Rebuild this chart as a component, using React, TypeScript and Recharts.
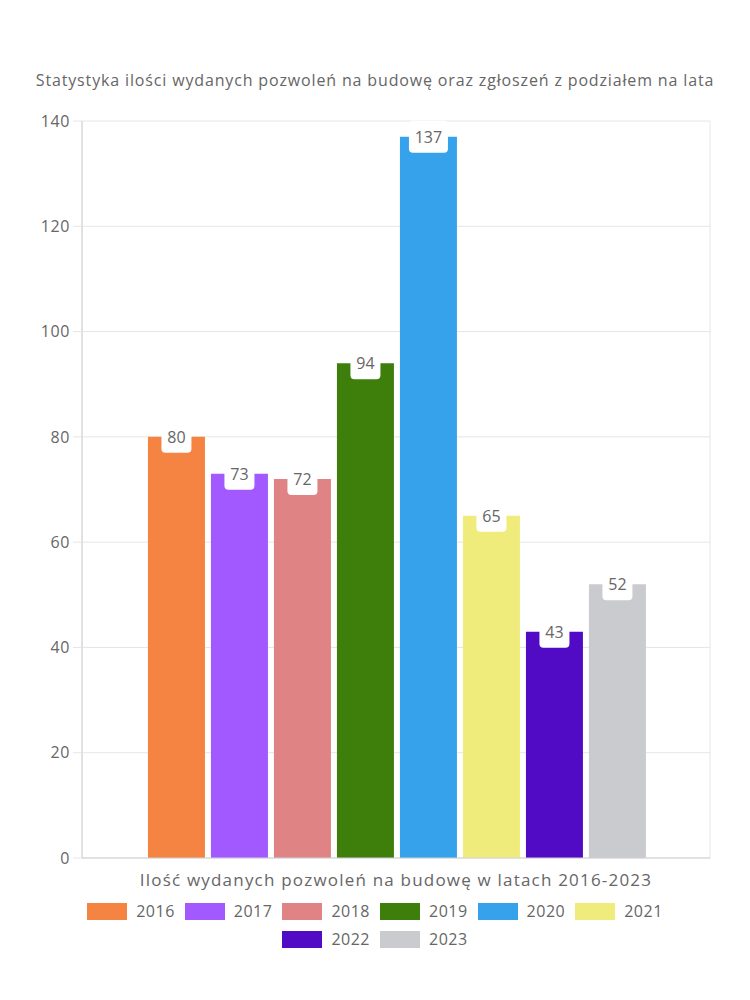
import { BarChart, Bar, XAxis, YAxis, CartesianGrid, LabelList } from 'recharts'

const chartTitle = 'Statystyka ilości wydanych pozwoleń na budowę oraz zgłoszeń z podziałem na lata'
const axisTitle = 'Ilość wydanych pozwoleń na budowę w latach 2016-2023'
const years = ['2016', '2017', '2018', '2019', '2020', '2021', '2022', '2023']
const counts = [80, 73, 72, 94, 137, 65, 43, 52]
const colors = ['#F58342', '#A259FF', '#E08385', '#3E7F0B', '#36A2EB', '#F0EC7C', '#520BC4', '#CACBCF']
const yTicks = [0, 20, 40, 60, 80, 100, 120, 140]
const edgeTicks = [0, 1]

const row: Record<string, string | number> = { name: axisTitle }
years.forEach((y, i) => { row[y] = counts[i] })
const data = [row]

const FONT = '"Open Sans", sans-serif'
const TEXT = '#666'

// white rounded box sitting on the top edge of each bar
// eslint-disable-next-line @typescript-eslint/no-explicit-any
const BoxLabel = (props: any) => {
  const { x, y, width, value } = props
  const text = String(value)
  const w = text.length * 9 + 12
  const cx = Number(x) + Number(width) / 2
  return (
    <g>
      <rect x={cx - w / 2} y={Number(y) - 16} width={w} height={32} rx={4} fill="#fff" />
      <text x={cx} y={Number(y)} textAnchor="middle" dominantBaseline="central" fill={TEXT} fontSize={16}>
        {text}
      </text>
    </g>
  )
}

export default function App() {
  return (
    <div style={{ position: 'absolute', left: 0, top: 0, width: 750, height: 1000, fontFamily: FONT, background: '#fff' }}>
      <div style={{ position: 'absolute', left: 0, top: 69, width: 750, textAlign: 'center', fontSize: 16, letterSpacing: 0.85, color: TEXT }}>
        {chartTitle}
      </div>
      <BarChart
        width={750}
        height={1000}
        data={data}
        margin={{ top: 121, right: 40, bottom: 132, left: 0 }}
        barCategoryGap="10.5%"
        barGap={6}
      >
        <CartesianGrid stroke="#e6e6e6" xAxisId="edges" />
        <XAxis dataKey="name" hide height={0} />
        <XAxis
          xAxisId="edges"
          type="number"
          domain={[0, 1]}
          ticks={edgeTicks}
          tick={false}
          tickSize={8}
          height={10}
          axisLine={{ stroke: '#d0d0d0' }}
          tickLine={{ stroke: '#e0e0e0' }}
        />
        <YAxis
          width={82}
          domain={[0, 140]}
          ticks={yTicks}
          interval={0}
          tickSize={9}
          tickMargin={3}
          axisLine={{ stroke: '#d0d0d0' }}
          tickLine={{ stroke: '#e6e6e6' }}
          tick={{ fill: TEXT, fontSize: 16, letterSpacing: 0.6 }}
        />
        {years.map((y, i) => (
          <Bar key={y} dataKey={y} fill={colors[i]} isAnimationActive={false}>
            <LabelList dataKey={y} content={BoxLabel} />
          </Bar>
        ))}
      </BarChart>
      <div style={{ position: 'absolute', left: 82, top: 868, width: 628, textAlign: 'center', fontSize: 17, letterSpacing: 1.2, color: TEXT }}>
        {axisTitle}
      </div>
      <div
        style={{
          position: 'absolute', left: 70, top: 900, width: 610,
          display: 'flex', flexWrap: 'wrap', justifyContent: 'center', rowGap: 6,
        }}
      >
        {years.map((y, i) => (
          <div key={y} style={{ display: 'flex', alignItems: 'center', height: 22, margin: '0 5px' }}>
            <span style={{ display: 'inline-block', width: 40, height: 17, background: colors[i], marginRight: 9 }} />
            <span style={{ fontSize: 16, letterSpacing: 0.5, color: TEXT, lineHeight: '22px' }}>{y}</span>
          </div>
        ))}
      </div>
    </div>
  )
}
